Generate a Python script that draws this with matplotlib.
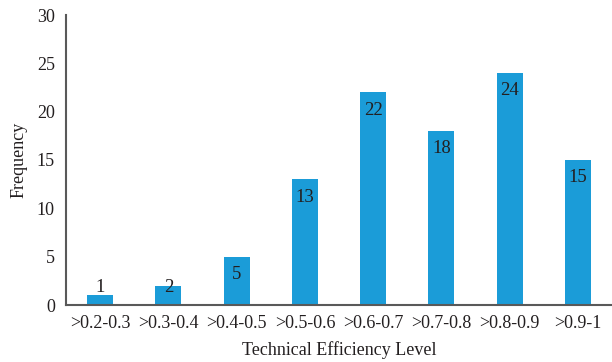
import matplotlib.pyplot as plt
import numpy as np

plt.rcParams['font.family'] = ['Liberation Serif', 'DejaVu Serif']

categories = [">0.2-0.3", ">0.3-0.4", ">0.4-0.5", ">0.5-0.6",
              ">0.6-0.7", ">0.7-0.8", ">0.8-0.9", ">0.9-1"]
frequency = [1, 2, 5, 13, 22, 18, 24, 15]

text_color = "#231f20"
bar_color = "#1b9cd8"

fig = plt.figure(figsize=(6.12, 3.62), dpi=100)
ax = fig.add_axes([66 / 612, 57 / 362, 546 / 612, 290 / 362])

x = np.arange(len(categories))
ax.bar(x, frequency, width=0.38, color=bar_color, zorder=2)

# value labels sit just inside the bar top, with a floor for short bars
for xi, v in zip(x, frequency):
    ax.text(xi, max(v - 1.85, 1.76), str(v), ha="center", va="center",
            fontsize=13.5, color=text_color, zorder=3)

ax.set_xlim(-0.5, len(categories) - 0.5)
ax.set_ylim(0, 30)
ax.set_yticks(range(0, 31, 5))
ax.set_xticks(x)
ax.set_xticklabels(categories)
ax.tick_params(axis="both", length=0, labelsize=13, colors=text_color)
ax.tick_params(axis="y", pad=8)
ax.tick_params(axis="x", pad=7)

for s in ["top", "right"]:
    ax.spines[s].set_visible(False)
for s in ["left", "bottom"]:
    ax.spines[s].set_color("#595959")
    ax.spines[s].set_linewidth(1.5)

ax.set_xlabel("Technical Efficiency Level", fontsize=13, color=text_color, labelpad=7)
ax.set_ylabel("Frequency", fontsize=13, color=text_color, labelpad=7)

fig.savefig("out.png", dpi=100)
